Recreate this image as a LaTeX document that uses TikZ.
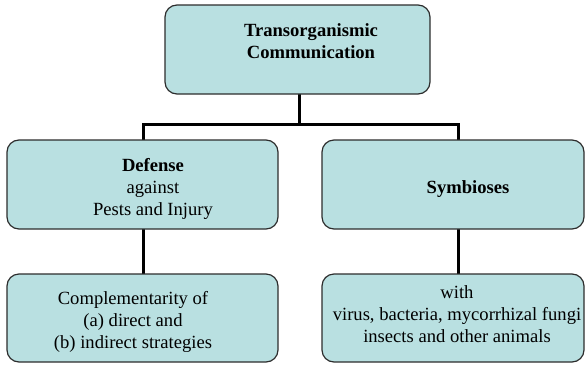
\documentclass[tikz,border=0pt]{standalone}
\usepackage{fontspec}
\setmainfont{Liberation Serif}
\definecolor{boxfill}{RGB}{185,224,225}
\definecolor{boxline}{RGB}{45,45,45}
\tikzset{
  panel/.style={draw=boxline, line width=1.2pt, fill=boxfill, rounded corners=12pt},
  label/.style={anchor=base, inner sep=0pt, align=center, font=\fontsize{18.6}{22}\selectfont},
  conn/.style={draw=black, line width=3pt}
}
\begin{document}
\begin{tikzpicture}[x=1pt, y=-1pt]
\useasboundingbox (0,0) rectangle (585,364);

% junction points on the horizontal bar
\coordinate (jt) at (299,124);
\coordinate (jl) at (143,124);
\coordinate (jr) at (458,124);

% box corners
\path (165,5) coordinate (top-a) (430,94) coordinate (top-b);
\path (7,140) coordinate (lm-a) (278,229) coordinate (lm-b);
\path (322,140) coordinate (rm-a) (584,229) coordinate (rm-b);
\path (7,274) coordinate (lb-a) (278,362) coordinate (lb-b);
\path (322,274) coordinate (rb-a) (584,362) coordinate (rb-b);

% connectors
\draw[conn] (jt) -- (jt |- top-b);
\draw[conn] (jl |- lm-a) -- (jl) -- (jr) -- (jr |- rm-a);
\draw[conn] (jl |- lm-b) -- (jl |- lb-a);
\draw[conn] (jr |- rm-b) -- (jr |- rb-a);

% rounded boxes
\draw[panel] (top-a) rectangle (top-b);
\draw[panel] (lm-a) rectangle (lm-b);
\draw[panel] (rm-a) rectangle (rm-b);
\draw[panel] (lb-a) rectangle (lb-b);
\draw[panel] (rb-a) rectangle (rb-b);

% texts (base anchor sits on the last line)
\node[label] (ttop) at (311,58) {\textbf{Transorganismic}\\\textbf{Communication}};
\node[label] (tlm) at (153,215) {\textbf{Defense}\\against\\Pests and Injury};
\node[label] (trm) at (468,193) {\textbf{Symbioses}};
\node[label] (tlb) at (133,348) {Complementarity of\\(a) direct and\\(b) indirect strategies};
\node[label] (trb) at (457,342) {with\\virus, bacteria, mycorrhizal fungi\\insects and other animals};
\end{tikzpicture}
\end{document}
